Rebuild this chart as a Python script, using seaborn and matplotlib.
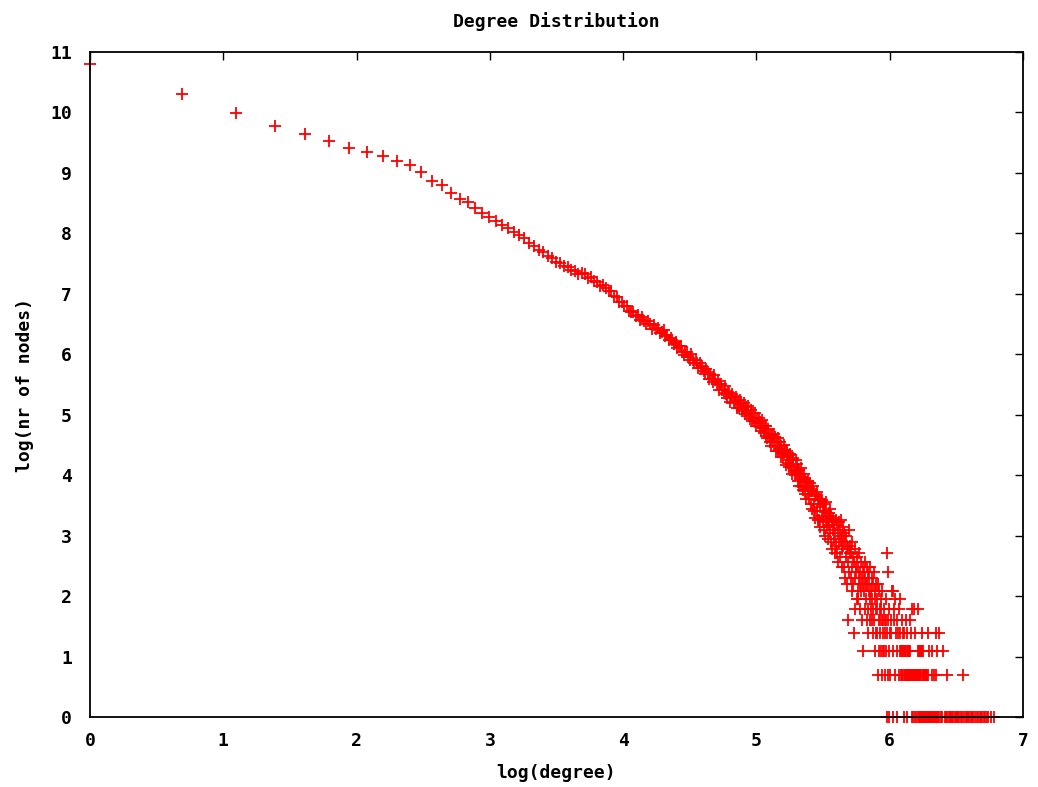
import numpy as np
import pandas as pd
import seaborn as sns
import matplotlib
matplotlib.use("Agg")
import matplotlib.pyplot as plt

# Number of nodes having degree 1, 2, 3, ... 403 (every degree in this range occurs)
nodes_per_degree = [
    49000, 30000, 22000, 17700, 15400, 13800, 12300, 11400, 10800, 9900,
    9230, 8180, 7115, 6634, 5768, 5271, 5014, 4537, 4188, 3905,
    3667, 3440, 3270, 3050, 2900, 2740, 2530, 2400, 2250, 2180,
    2040, 1990, 1870, 1830, 1740, 1700, 1620, 1600, 1530, 1540,
    1515, 1414, 1446, 1352, 1340, 1245, 1268, 1217, 1144, 1155,
    1050, 1036, 953, 959, 896, 902, 831, 814, 812, 759,
    769, 715, 750, 698, 662, 695, 668, 616, 660, 611,
    628, 574, 581, 603, 543, 555, 508, 530, 508, 475,
    492, 447, 460, 466, 421, 400, 422, 421, 388, 369,
    402, 367, 348, 366, 351, 321, 350, 320, 333, 305,
    292, 318, 300, 268, 293, 268, 254, 284, 263, 245,
    261, 224, 246, 248, 224, 213, 237, 209, 196, 215,
    214, 183, 202, 210, 181, 184, 198, 166, 187, 166,
    189, 176, 158, 163, 181, 150, 169, 153, 172, 145,
    138, 161, 152, 133, 152, 134, 153, 124, 141, 129,
    141, 121, 131, 113, 137, 119, 109, 123, 124, 105,
    101, 118, 107, 95, 107, 88, 107, 94, 108, 89,
    102, 82, 95, 101, 81, 84, 95, 74, 89, 79,
    74, 90, 76, 83, 65, 79, 81, 67, 62, 76,
    77, 62, 70, 56, 70, 72, 59, 55, 70, 58,
    66, 50, 59, 46, 59, 51, 61, 46, 53, 43,
    45, 56, 40, 51, 46, 37, 49, 40, 50, 37, 44,
    48, 34, 42, 31, 43, 46, 34, 30, 39, 27, 40,
    30, 41, 26, 36, 37, 26, 32, 23, 36, 28, 36, 25, 30,
    34, 22, 30, 20, 27, 35, 23, 26, 19, 29, 24, 31, 21,
    28, 18, 25, 16, 22, 27, 19, 24, 15, 21, 26, 17,
    24, 15, 21, 13, 25, 18, 22, 14, 19, 26, 16, 20, 12, 17, 23,
    21, 12, 18, 10, 20, 14, 17, 9, 5, 13, 16, 22, 11, 15,
    17, 10, 15, 8, 12, 18, 9, 14, 4, 13, 16, 10, 6, 12, 11, 7,
    14, 8, 12, 7, 10, 15, 9, 6, 11, 13, 8, 10, 5, 12, 9,
    3, 11, 8, 6, 10, 13, 7, 9, 5, 12,
    9, 6, 11, 4, 8, 10, 5, 7, 12, 6,
    8, 5, 10, 7, 4, 9, 6, 11, 5, 8, 3, 7, 9, 4, 6,
    7, 4, 6, 9, 2, 5, 8, 3, 6, 5,
    4, 7, 3, 6, 5, 2, 8, 4, 5, 3,
    6, 3, 5, 2, 4, 7, 3, 5, 1, 15,
    4, 2, 5, 11, 3, 6, 1, 4,
]

# Sparse tail: only the degrees above 403 that actually occur
tail_degree = [
    404, 406, 408, 410, 412, 414, 415, 416, 418, 420, 421, 423, 425, 426, 427,
    429, 431, 433, 435, 436, 437, 438, 440,
    441, 442, 443, 444, 445, 446, 447, 448, 449, 450, 451, 452, 453, 454, 455,
    456, 457, 458, 459, 460, 461, 462, 463, 464, 465, 466, 467, 468, 469, 470,
    471, 472, 473, 474, 475,
    476, 477, 478, 479, 481, 482, 483, 484, 486, 487, 488, 490, 491, 493, 494,
    496, 497, 498, 499, 500, 501, 502, 503, 505, 506, 507, 508, 510, 511, 512,
    513, 514, 515, 516, 517, 518, 519, 521, 522, 524, 525, 527, 528, 530, 531,
    533, 534, 536, 537, 539, 540,
    541, 542, 545, 548, 550, 553, 555, 556, 558, 561, 564, 566, 570, 571, 573,
    575, 576, 580, 584, 586, 591, 595, 602, 611, 617, 620, 622, 628, 634, 640,
    645, 651, 657, 663, 669, 675, 681, 687, 693, 700, 706, 713, 720, 727, 734,
    741, 749, 756, 764, 776, 784, 792, 801, 809, 818, 827, 836, 846, 864, 881,
]
tail_nodes = [
    2, 5, 4, 8, 3, 1, 8, 6, 5, 7, 2, 4, 1, 3, 5,
    4, 6, 2, 4, 3, 7, 2, 3,
    2, 5, 3, 2, 3, 2, 4, 1, 3, 4, 2, 3, 2, 3, 5,
    2, 3, 2, 4, 2, 1, 3, 2, 3, 2, 3, 2, 3, 2, 5,
    2, 2, 4, 2, 2,
    6, 2, 1, 2, 2, 1, 6, 2, 2, 4, 1, 2, 2, 1, 2,
    2, 1, 3, 2, 6, 1, 2, 3, 2, 1, 3, 2, 1, 3, 2,
    4, 1, 3, 2, 1, 3, 2, 1, 2, 1, 2, 1, 2, 1, 2,
    1, 2, 1, 2, 4, 1,
    3, 1, 1, 1, 1, 1, 3, 2, 1, 1, 2, 1, 2, 1, 4,
    1, 3, 1, 4, 1, 1, 1, 3, 1, 1, 2, 1, 1, 1, 1,
    1, 1, 1, 1, 1, 1, 1, 1, 1, 2, 1, 1, 1, 1, 1,
    1, 1, 1, 1, 1, 1, 1, 1, 1, 1, 1, 1, 1, 1, 1,
]

degree = np.concatenate([np.arange(1, len(nodes_per_degree) + 1), tail_degree])
nodes = np.concatenate([nodes_per_degree, tail_nodes])
df = pd.DataFrame({"log_degree": np.log(degree), "log_nodes": np.log(nodes)})

sns.set_style("white")
plt.rcParams["font.family"] = ["DejaVu Sans Mono", "DejaVu Sans"]
plt.rcParams["font.weight"] = "bold"
plt.rcParams["axes.titleweight"] = "bold"
plt.rcParams["axes.labelweight"] = "bold"
plt.rcParams["text.color"] = "black"
plt.rcParams["axes.labelcolor"] = "black"

W, H = 1038, 787
fig = plt.figure(figsize=(W / 100, H / 100), dpi=100)
ax = fig.add_axes([90 / W, 1 - 717 / H, (1023 - 90) / W, (717 - 52) / H])

sns.scatterplot(
    data=df, x="log_degree", y="log_nodes", ax=ax,
    marker="+", s=80, linewidth=1.3, color="#ff0000", edgecolor="#ff0000",
    clip_on=False, zorder=2, legend=False,
)

ax.set_xlim(0, 7)
ax.set_ylim(0, 11)
ax.set_xticks(range(0, 8))
ax.set_yticks(range(0, 12))
ax.tick_params(direction="in", length=5.5, width=1.0, top=True, right=True,
               labelsize=13, colors="black")
ax.tick_params(axis="x", pad=11)
ax.tick_params(axis="y", pad=13)
for sp in ax.spines.values():
    sp.set_visible(True)
    sp.set_color("black")
    sp.set_linewidth(1.3)
    sp.set_zorder(3)

ax.set_title("Degree Distribution", fontsize=13, pad=18, color="black")
ax.set_xlabel("log(degree)", fontsize=13, labelpad=10, color="black")
ax.set_ylabel("log(nr of nodes)", fontsize=13, labelpad=12, color="black")

fig.savefig("out.png", dpi=100)
